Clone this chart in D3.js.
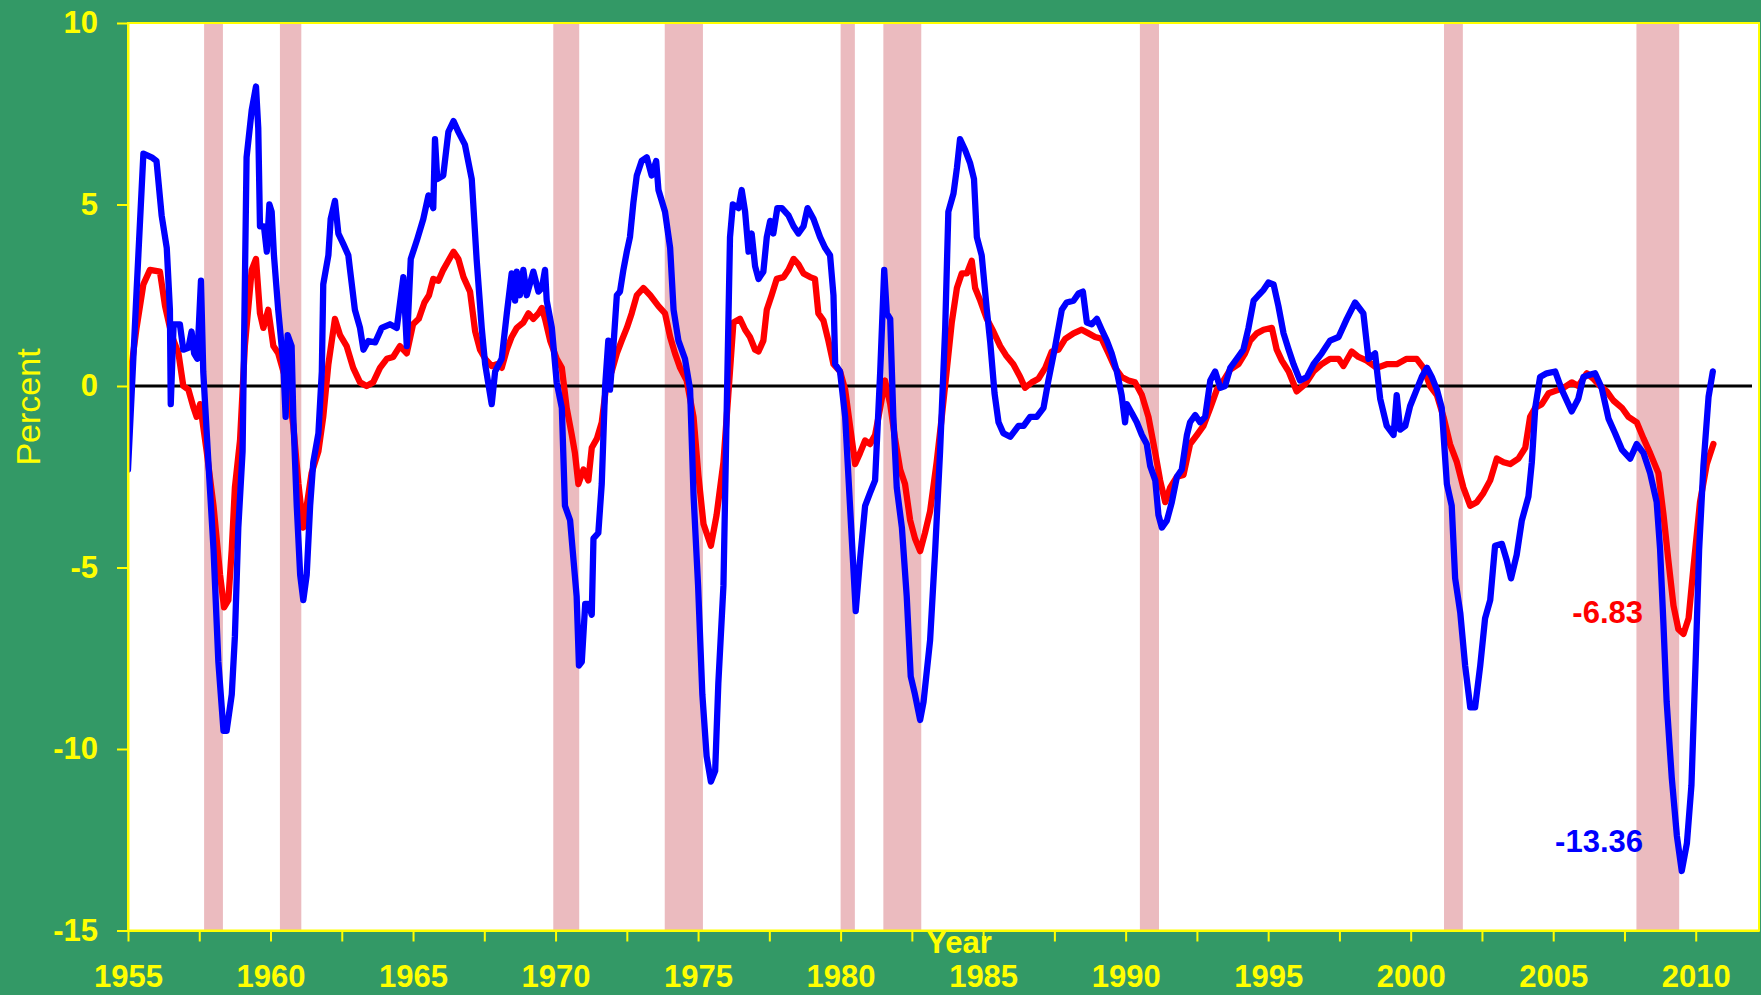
<!DOCTYPE html>
<html>
<head>
<meta charset="utf-8">
<script src="https://cdn.jsdelivr.net/npm/d3@7/dist/d3.min.js"></script>
<style>
  html, body { margin: 0; padding: 0; background: #339966; }
  svg { display: block; }
  text { font-family: "Liberation Sans", Arial, sans-serif; }
</style>
</head>
<body>
<svg id="chart" width="1761" height="995"></svg>
<script>
// ---------------- DATA ----------------
const yTicks = [-15, -10, -5, 0, 5, 10];
const xLabelYears = [1955, 1960, 1965, 1970, 1975, 1980, 1985, 1990, 1995, 2000, 2005, 2010];

const recessionStart = [1957.67, 1960.33, 1969.92, 1973.83, 1980.0, 1981.5, 1990.5, 2001.17, 2007.92];
const recessionEnd   = [1958.33, 1961.08, 1970.83, 1975.17, 1980.5, 1982.83, 1991.17, 2001.83, 2009.42];

const blueDates = [1955.0,1955.3,1955.54,1955.83,1956.0,1956.18,1956.36,1956.47,1956.5,1956.6,1956.82,1956.94,1957.12,1957.23,1957.32,1957.43,1957.56,1957.64,1957.82,1958.0,1958.17,1958.35,1958.46,1958.64,1958.75,1958.87,1959.02,1959.16,1959.34,1959.49,1959.57,1959.63,1959.77,1959.87,1959.96,1960.04,1960.12,1960.27,1960.45,1960.53,1960.6,1960.74,1960.8,1960.92,1961.04,1961.15,1961.27,1961.39,1961.5,1961.68,1961.8,1961.85,1962.03,1962.11,1962.26,1962.38,1962.56,1962.73,1962.79,1962.96,1963.14,1963.26,1963.43,1963.67,1963.9,1964.19,1964.43,1964.66,1964.78,1964.92,1965.13,1965.36,1965.54,1965.71,1965.77,1965.85,1966.06,1966.24,1966.42,1966.59,1966.82,1967.06,1967.23,1967.41,1967.53,1967.76,1967.88,1968.11,1968.29,1968.46,1968.58,1968.64,1968.75,1968.87,1968.99,1969.22,1969.4,1969.52,1969.63,1969.69,1969.87,1970.04,1970.22,1970.33,1970.51,1970.63,1970.74,1970.82,1970.92,1971.04,1971.15,1971.27,1971.33,1971.5,1971.62,1971.74,1971.85,1971.91,1972.03,1972.15,1972.26,1972.38,1972.5,1972.61,1972.73,1972.85,1973.02,1973.2,1973.37,1973.53,1973.61,1973.84,1974.02,1974.14,1974.31,1974.54,1974.72,1974.84,1975.0,1975.15,1975.3,1975.45,1975.6,1975.71,1975.89,1976.0,1976.12,1976.22,1976.42,1976.53,1976.65,1976.77,1976.88,1977.0,1977.12,1977.29,1977.41,1977.53,1977.64,1977.78,1977.94,1978.17,1978.35,1978.52,1978.7,1978.84,1979.05,1979.28,1979.46,1979.63,1979.75,1979.81,1979.98,1980.16,1980.33,1980.53,1980.68,1980.86,1981.03,1981.21,1981.39,1981.53,1981.62,1981.74,1981.85,1981.97,1982.15,1982.32,1982.46,1982.61,1982.79,1982.91,1983.14,1983.32,1983.49,1983.67,1983.78,1983.96,1984.08,1984.19,1984.37,1984.54,1984.68,1984.78,1984.95,1985.13,1985.25,1985.4,1985.54,1985.71,1985.95,1986.24,1986.42,1986.65,1986.88,1987.12,1987.29,1987.53,1987.76,1987.93,1988.17,1988.35,1988.5,1988.64,1988.81,1988.99,1989.16,1989.34,1989.51,1989.69,1989.86,1989.98,1990.04,1990.22,1990.39,1990.57,1990.74,1990.86,1991.04,1991.15,1991.27,1991.45,1991.62,1991.8,1991.97,1992.15,1992.26,1992.44,1992.61,1992.79,1992.97,1993.14,1993.32,1993.49,1993.67,1993.9,1994.13,1994.31,1994.49,1994.66,1994.84,1995.01,1995.19,1995.36,1995.54,1995.72,1995.89,1996.12,1996.36,1996.59,1996.88,1997.17,1997.47,1997.76,1998.05,1998.34,1998.52,1998.75,1998.93,1999.16,1999.4,1999.51,1999.63,1999.81,1999.98,2000.21,2000.39,2000.57,2000.74,2000.92,2001.09,2001.27,2001.44,2001.56,2001.74,2001.91,2002.09,2002.26,2002.44,2002.61,2002.79,2002.96,2003.2,2003.37,2003.52,2003.72,2003.9,2004.13,2004.25,2004.37,2004.54,2004.77,2005.07,2005.3,2005.65,2005.88,2006.06,2006.24,2006.47,2006.7,2006.94,2007.17,2007.41,2007.7,2007.93,2008.17,2008.4,2008.63,2008.75,2008.87,2008.98,2009.16,2009.34,2009.51,2009.69,2009.85,2010.0,2010.12,2010.27,2010.45,2010.6];
const blueValues = [-2.3,2.6,6.4,6.3,6.2,4.7,3.8,2.1,-0.5,1.7,1.7,1.0,1.05,1.5,0.9,0.75,2.9,0.4,-2.1,-4.5,-7.6,-9.5,-9.5,-8.5,-6.9,-3.9,-1.8,6.3,7.6,8.25,7.1,4.4,4.4,3.7,5.0,4.8,3.6,2.1,0.6,-0.85,1.4,1.1,-0.85,-3.3,-5.2,-5.9,-5.2,-3.3,-2.1,-1.3,0.4,2.8,3.6,4.6,5.1,4.2,3.9,3.6,3.2,2.1,1.6,1.0,1.24,1.2,1.6,1.7,1.6,3.0,1.1,3.5,4.0,4.6,5.25,4.9,6.8,5.7,5.8,7.0,7.3,7.0,6.65,5.7,3.5,1.6,0.6,-0.5,0.4,0.75,2.0,3.1,2.35,3.15,2.5,3.2,2.5,3.15,2.6,2.7,3.2,2.35,1.6,0.1,-0.6,-3.3,-3.7,-4.8,-5.8,-7.7,-7.6,-6.0,-6.0,-6.3,-4.2,-4.05,-2.7,0.0,1.25,-0.1,1.1,2.5,2.6,3.2,3.7,4.1,5.05,5.8,6.2,6.3,5.8,6.2,5.4,4.8,3.8,2.1,1.25,0.75,-0.1,-3.0,-5.5,-8.5,-10.2,-10.9,-10.6,-8.2,-5.5,-0.85,4.1,5.0,4.9,5.4,4.8,3.7,4.2,3.3,2.95,3.15,4.1,4.55,4.2,4.9,4.9,4.7,4.4,4.2,4.4,4.9,4.6,4.1,3.8,3.6,2.5,0.6,0.4,-0.85,-3.3,-6.2,-4.8,-3.3,-2.95,-2.6,0.4,3.2,2.0,1.85,-0.85,-2.8,-3.9,-5.8,-8.0,-8.5,-9.2,-8.7,-7.0,-4.5,-1.8,1.6,4.8,5.3,6.0,6.8,6.5,6.15,5.7,4.1,3.6,2.1,1.2,-0.2,-1.0,-1.3,-1.4,-1.1,-1.1,-0.85,-0.85,-0.6,0.15,1.1,2.1,2.3,2.35,2.55,2.6,1.75,1.7,1.85,1.55,1.25,0.9,0.4,-0.25,-1.0,-0.5,-0.75,-1.0,-1.35,-1.6,-2.2,-2.6,-3.55,-3.9,-3.7,-3.2,-2.5,-2.3,-1.35,-1.0,-0.8,-1.0,-0.85,0.15,0.4,-0.05,0.0,0.5,0.75,1.0,1.6,2.35,2.5,2.65,2.85,2.8,2.2,1.45,1.0,0.6,0.15,0.25,0.6,0.9,1.25,1.35,1.85,2.3,2.0,0.75,0.9,-0.35,-1.1,-1.35,-0.25,-1.2,-1.1,-0.55,-0.1,0.25,0.5,0.25,-0.1,-0.6,-2.7,-3.3,-5.3,-6.25,-7.7,-8.85,-8.85,-7.7,-6.4,-5.9,-4.4,-4.35,-4.8,-5.3,-4.65,-3.7,-3.05,-2.1,-0.6,0.25,0.35,0.4,-0.1,-0.7,-0.35,0.25,0.3,0.35,-0.05,-0.9,-1.3,-1.75,-2.0,-1.6,-1.85,-2.4,-3.2,-4.5,-6.6,-8.7,-10.8,-12.4,-13.36,-12.6,-11.0,-7.5,-4.5,-2.2,-0.3,0.4];

const redDates = [1955.0,1955.3,1955.54,1955.77,1956.12,1956.3,1956.53,1956.77,1956.94,1957.12,1957.3,1957.41,1957.53,1957.76,1958.0,1958.23,1958.37,1958.52,1958.64,1958.75,1958.93,1959.1,1959.34,1959.49,1959.63,1959.75,1959.92,1960.1,1960.27,1960.45,1960.62,1960.8,1960.98,1961.15,1961.27,1961.44,1961.68,1961.85,1962.03,1962.26,1962.44,1962.67,1962.9,1963.14,1963.37,1963.6,1963.84,1964.08,1964.3,1964.54,1964.78,1965.0,1965.2,1965.4,1965.56,1965.71,1965.89,1966.06,1966.24,1966.42,1966.59,1966.77,1967.0,1967.18,1967.35,1967.53,1967.76,1967.94,1968.11,1968.29,1968.46,1968.64,1968.87,1969.05,1969.22,1969.4,1969.52,1969.63,1969.81,1970.04,1970.22,1970.39,1970.57,1970.68,1970.8,1970.98,1971.15,1971.27,1971.45,1971.62,1971.8,1971.97,1972.15,1972.32,1972.5,1972.67,1972.85,1973.08,1973.32,1973.61,1973.84,1974.02,1974.19,1974.37,1974.6,1974.84,1975.01,1975.19,1975.45,1975.65,1975.89,1976.06,1976.24,1976.47,1976.65,1976.82,1977.0,1977.12,1977.29,1977.41,1977.58,1977.76,1978.0,1978.17,1978.35,1978.52,1978.7,1978.93,1979.1,1979.22,1979.4,1979.57,1979.75,1979.98,1980.16,1980.33,1980.51,1980.68,1980.86,1981.03,1981.21,1981.39,1981.56,1981.74,1981.91,1982.09,1982.26,1982.44,1982.61,1982.79,1982.96,1983.14,1983.37,1983.55,1983.72,1983.9,1984.08,1984.25,1984.43,1984.6,1984.72,1984.9,1985.13,1985.36,1985.6,1985.8,1986.06,1986.3,1986.47,1986.71,1986.94,1987.18,1987.41,1987.64,1987.88,1988.17,1988.46,1988.7,1988.93,1989.16,1989.4,1989.63,1989.86,1990.1,1990.33,1990.57,1990.8,1991.04,1991.21,1991.39,1991.56,1991.8,1992.03,1992.26,1992.5,1992.73,1992.97,1993.2,1993.43,1993.67,1993.96,1994.19,1994.37,1994.6,1994.84,1995.13,1995.3,1995.48,1995.72,1996.0,1996.3,1996.59,1996.88,1997.17,1997.47,1997.64,1997.93,1998.17,1998.46,1998.81,1999.16,1999.51,1999.86,2000.21,2000.45,2000.68,2000.92,2001.15,2001.38,2001.62,2001.85,2002.09,2002.32,2002.55,2002.79,2003.02,2003.26,2003.49,2003.78,2004.02,2004.19,2004.37,2004.6,2004.84,2005.13,2005.36,2005.65,2005.88,2006.18,2006.41,2006.65,2006.88,2007.11,2007.41,2007.64,2007.93,2008.17,2008.4,2008.69,2008.87,2009.04,2009.22,2009.39,2009.57,2009.75,2009.92,2010.15,2010.39,2010.62];
const redValues = [-0.2,1.6,2.8,3.2,3.15,2.2,1.4,0.9,0.0,-0.1,-0.6,-0.85,-0.5,-1.8,-3.3,-5.2,-6.1,-5.9,-4.5,-2.8,-1.5,1.1,3.2,3.5,2.0,1.6,2.1,1.1,0.9,0.4,0.0,-1.1,-2.7,-3.9,-3.3,-2.4,-1.8,-0.85,0.6,1.85,1.4,1.1,0.5,0.1,0.0,0.1,0.5,0.75,0.8,1.1,0.9,1.7,1.85,2.3,2.5,2.95,2.9,3.2,3.45,3.7,3.5,3.0,2.6,1.5,1.0,0.75,0.55,0.6,0.5,1.0,1.35,1.6,1.75,2.0,1.85,2.0,2.15,1.85,1.25,0.75,0.5,-0.6,-1.35,-1.85,-2.7,-2.3,-2.6,-1.7,-1.45,-1.0,0.15,0.4,0.9,1.25,1.6,2.0,2.5,2.7,2.5,2.2,2.0,1.35,0.9,0.5,0.15,-0.85,-2.45,-3.8,-4.4,-3.55,-2.1,-0.25,1.75,1.85,1.55,1.35,1.0,0.95,1.25,2.1,2.5,2.95,3.0,3.2,3.5,3.35,3.1,3.0,2.95,2.0,1.8,1.25,0.6,0.4,-0.1,-1.1,-2.15,-1.85,-1.5,-1.6,-1.35,-0.6,0.15,-0.5,-1.45,-2.3,-2.7,-3.7,-4.2,-4.55,-4.05,-3.45,-2.1,-0.85,0.4,1.75,2.7,3.1,3.1,3.45,2.7,2.35,1.85,1.5,1.1,0.85,0.6,0.25,-0.05,0.1,0.2,0.5,0.95,1.0,1.3,1.45,1.55,1.45,1.35,1.3,0.9,0.5,0.25,0.15,0.1,-0.25,-0.85,-1.85,-2.6,-3.2,-2.8,-2.5,-2.45,-1.6,-1.35,-1.1,-0.6,-0.1,0.15,0.45,0.6,0.9,1.25,1.45,1.55,1.6,1.0,0.7,0.4,-0.15,0.05,0.4,0.6,0.75,0.75,0.55,0.95,0.8,0.7,0.5,0.6,0.6,0.75,0.75,0.5,0.0,-0.25,-0.85,-1.6,-2.1,-2.8,-3.3,-3.2,-2.95,-2.6,-2.0,-2.1,-2.15,-2.0,-1.7,-0.85,-0.6,-0.5,-0.2,-0.12,-0.05,0.1,0.0,0.35,0.2,0.0,-0.15,-0.4,-0.6,-0.85,-1.0,-1.45,-1.85,-2.4,-3.55,-4.8,-6.05,-6.7,-6.83,-6.4,-5.0,-3.2,-2.15,-1.6];

const annotations = [
  { text: "-6.83",  color: "#FF0000", year: 2008.15, value: -6.53 },
  { text: "-13.36", color: "#0000FF", year: 2008.15, value: -12.85 }
];

// ---------------- LAYOUT ----------------
const W = 1761, H = 995;
const plotL = 128, plotR = 1759, plotT = 23, plotB = 930.5;
const GREEN = "#339966", YELLOW = "#FFFF00";
const FONT = '"Liberation Sans", Arial, sans-serif';

const svg = d3.select("#chart");
svg.append("rect").attr("width", W).attr("height", H).attr("fill", GREEN);

const x = d3.scaleLinear().domain([1955, 2012.22]).range([plotL, plotR]);
const y = d3.scaleLinear().domain([-15, 10]).range([plotB, plotT]);

svg.append("rect")
  .attr("x", plotL).attr("y", plotT)
  .attr("width", plotR - plotL).attr("height", plotB - plotT)
  .attr("fill", "#FFFFFF");

svg.append("clipPath").attr("id", "plotClip")
  .append("rect").attr("x", plotL).attr("y", plotT)
  .attr("width", plotR - plotL).attr("height", plotB - plotT);

const plot = svg.append("g").attr("clip-path", "url(#plotClip)");

plot.selectAll("rect.rec")
  .data(recessionStart.map((s, i) => [s, recessionEnd[i]]))
  .enter().append("rect")
  .attr("class", "rec")
  .attr("x", d => x(d[0]))
  .attr("width", d => x(d[1]) - x(d[0]))
  .attr("y", plotT).attr("height", plotB - plotT)
  .attr("fill", "#EBBBBF");

plot.append("line")
  .attr("x1", plotL).attr("x2", plotR - 7)
  .attr("y1", y(0)).attr("y2", y(0))
  .attr("stroke", "#000000").attr("stroke-width", 3);

const line = d3.line().x(d => x(d[0])).y(d => y(d[1]));

const redData = redDates.map((d, i) => [d, redValues[i]]);
const blueData = blueDates.map((d, i) => [d, blueValues[i]]);

plot.append("path").datum(redData)
  .attr("d", line).attr("fill", "none")
  .attr("stroke", "#FF0000").attr("stroke-width", 6.3)
  .attr("stroke-linejoin", "round").attr("stroke-linecap", "round");

plot.append("path").datum(blueData)
  .attr("d", line).attr("fill", "none")
  .attr("stroke", "#0000FF").attr("stroke-width", 6.3)
  .attr("stroke-linejoin", "round").attr("stroke-linecap", "round");

svg.append("rect")
  .attr("x", plotL).attr("y", plotT)
  .attr("width", plotR - plotL).attr("height", plotB - plotT)
  .attr("fill", "none").attr("stroke", YELLOW).attr("stroke-width", 2);

svg.selectAll("text.ann").data(annotations).enter().append("text")
  .attr("class", "ann")
  .attr("x", d => x(d.year)).attr("y", d => y(d.value))
  .attr("text-anchor", "end")
  .attr("font-family", FONT).attr("font-weight", "bold").attr("font-size", 31)
  .attr("fill", d => d.color)
  .text(d => d.text);

const yAxis = d3.axisLeft(y).tickValues(yTicks).tickFormat(d => String(d))
  .tickSize(11).tickSizeOuter(0).tickPadding(19);
const gy = svg.append("g").attr("transform", `translate(${plotL},0)`).call(yAxis);
gy.select(".domain").attr("stroke", YELLOW).attr("stroke-width", 2);
gy.selectAll(".tick line").attr("stroke", YELLOW).attr("stroke-width", 2);
gy.selectAll(".tick text").attr("fill", YELLOW)
  .attr("font-family", FONT).attr("font-weight", "bold").attr("font-size", 31);

const xTickVals = d3.range(0, 23).map(i => 1955 + i * 2.5);
const xAxis = d3.axisBottom(x).tickValues(xTickVals)
  .tickFormat(d => xLabelYears.includes(d) ? String(d) : "")
  .tickSize(11).tickSizeOuter(0).tickPadding(23);
const gx = svg.append("g").attr("transform", `translate(0,${plotB})`).call(xAxis);
gx.select(".domain").attr("stroke", YELLOW).attr("stroke-width", 2);
gx.selectAll(".tick line").attr("stroke", YELLOW).attr("stroke-width", 2);
gx.selectAll(".tick text").attr("fill", YELLOW)
  .attr("font-family", FONT).attr("font-weight", "bold").attr("font-size", 31);

svg.append("text")
  .attr("x", 959).attr("y", 953)
  .attr("text-anchor", "middle")
  .attr("font-family", FONT).attr("font-weight", "bold").attr("font-size", 31)
  .attr("fill", YELLOW).text("Year");

svg.append("text")
  .attr("transform", "translate(40,407) rotate(-90)")
  .attr("text-anchor", "middle")
  .attr("font-family", FONT).attr("font-size", 34)
  .attr("fill", YELLOW).text("Percent");
</script>
</body>
</html>
